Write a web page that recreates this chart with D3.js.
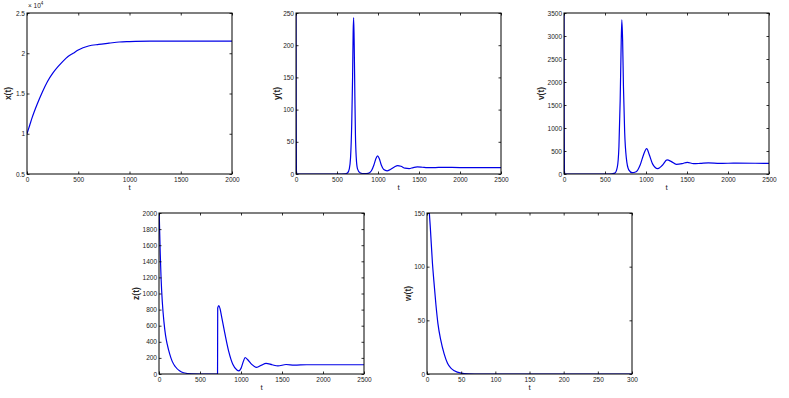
<!DOCTYPE html>
<html>
<head>
<meta charset="utf-8">
<script src="https://cdn.jsdelivr.net/npm/d3@7"></script>
<style>
  body { margin: 0; background: #fff; }
  svg { display: block; font-family: "Liberation Sans", Arial, sans-serif; }
</style>
</head>
<body>
<svg id="chart" width="789" height="398"></svg>
<script>
'use strict';

// x(t), in units of 10^4
var xTimes = [0, 25, 50, 100, 150, 200, 250, 300, 350, 400, 450, 500, 600, 700, 800, 900, 1000, 1200, 1500, 2000];
var xValues = [1.0, 1.1, 1.2, 1.37, 1.52, 1.65, 1.75, 1.83, 1.9, 1.96, 2.0, 2.04, 2.09, 2.11, 2.125, 2.14, 2.145, 2.15, 2.15, 2.15];

var yTimes = [0, 2, 5, 10, 100, 500, 600, 630, 650, 665, 680, 690, 697, 703, 710, 718, 725, 735, 750, 780, 830, 880, 920, 950, 975, 995, 1015, 1040, 1070, 1110, 1150, 1200, 1240, 1280, 1330, 1380, 1430, 1480, 1540, 1600, 1700, 1800, 2000, 2500];
var yValues = [260, 80, 5, 0.2, 0, 0, 0.3, 2, 8, 25, 80, 150, 220, 243, 200, 120, 60, 25, 8, 2, 0.5, 1, 5, 14, 24, 28, 24, 14, 7, 5, 7, 11, 13, 12, 9, 8.5, 10, 11, 10.5, 9.8, 10, 10.3, 10, 10];

var vTimes = [0, 2, 5, 10, 100, 550, 620, 650, 670, 685, 695, 705, 715, 725, 740, 760, 790, 830, 880, 930, 970, 1008, 1040, 1080, 1142, 1200, 1256, 1310, 1370, 1440, 1504, 1580, 1660, 1760, 1900, 2100, 2500];
var vValues = [3700, 1200, 80, 0, 0, 0, 20, 150, 600, 1600, 2600, 3350, 2900, 1900, 900, 350, 90, 30, 50, 200, 420, 552, 420, 220, 116, 190, 305, 270, 210, 225, 254, 225, 230, 240, 232, 235, 232];

var zTimes = [0, 5, 15, 25, 40, 60, 80, 100, 130, 160, 200, 250, 300, 400, 500, 714, 716, 730, 745, 760, 800, 850, 900, 950, 975, 1000, 1030, 1050, 1080, 1130, 1190, 1250, 1305, 1380, 1450, 1550, 1650, 1800, 2500];
var zValues = [2100, 1900, 1500, 1200, 900, 650, 480, 370, 250, 160, 90, 40, 15, 2, 0, 0, 820, 850, 810, 730, 520, 280, 120, 50, 40, 70, 160, 205, 180, 120, 82, 110, 133, 115, 100, 118, 110, 115, 115];

var wTimes = [0, 3, 5, 8, 10, 13, 16, 20, 25, 30, 35, 40, 50, 60, 80, 300];
var wValues = [200, 155, 135, 103, 87, 65, 47, 32, 19, 10, 5.5, 3, 0.8, 0.2, 0, 0];

var panels = [
  { left: 27, top: 13, label: 'x(t)', times: xTimes, values: xValues, tDomain: [0, 2000], tTicks: [0, 500, 1000, 1500, 2000], vDomain: [0.5, 2.5], vTicks: [0.5, 1, 1.5, 2, 2.5], exp: true },
  { left: 296, top: 13, label: 'y(t)', times: yTimes, values: yValues, tDomain: [0, 2500], tTicks: d3.range(0, 2501, 500), vDomain: [0, 250], vTicks: d3.range(0, 251, 50) },
  { left: 564, top: 13, label: 'v(t)', times: vTimes, values: vValues, tDomain: [0, 2500], tTicks: d3.range(0, 2501, 500), vDomain: [0, 3500], vTicks: d3.range(0, 3501, 500) },
  { left: 159, top: 213, label: 'z(t)', times: zTimes, values: zValues, tDomain: [0, 2500], tTicks: d3.range(0, 2501, 500), vDomain: [0, 2000], vTicks: d3.range(0, 2001, 200) },
  { left: 427, top: 213, label: 'w(t)', times: wTimes, values: wValues, tDomain: [0, 300], tTicks: d3.range(0, 301, 50), vDomain: [0, 150], vTicks: [0, 50, 100, 150] }
];

var pw = 205, ph = 161, tick = 2.5;
var svg = d3.select('#chart');

panels.forEach(function (p, i) {
  var g = svg.append('g').attr('transform', 'translate(' + p.left + ',' + p.top + ')');
  var x = d3.scaleLinear().domain(p.tDomain).range([0, pw]);
  var y = d3.scaleLinear().domain(p.vDomain).range([ph, 0]);

  g.append('clipPath').attr('id', 'clip' + i)
    .append('rect').attr('width', pw).attr('height', ph);

  var pts = p.times.map(function (t, k) { return [t, p.values[k]]; });
  var line = d3.line()
    .x(function (d) { return x(d[0]); })
    .y(function (d) { return y(d[1]); })
    .curve(d3.curveMonotoneX);

  g.append('path')
    .datum(pts)
    .attr('clip-path', 'url(#clip' + i + ')')
    .attr('fill', 'none')
    .attr('stroke', '#0000e6')
    .attr('stroke-width', 1.2)
    .attr('d', line);

  var fmt = function (d) { return d; };

  g.append('g').attr('transform', 'translate(0,' + ph + ')')
    .call(d3.axisBottom(x).tickValues(p.tTicks).tickSize(-tick).tickSizeOuter(0).tickPadding(3).tickFormat(fmt));
  g.append('g')
    .call(d3.axisLeft(y).tickValues(p.vTicks).tickSize(-tick).tickSizeOuter(0).tickPadding(2).tickFormat(fmt));
  g.append('g')
    .call(d3.axisTop(x).tickValues(p.tTicks).tickSize(-tick).tickSizeOuter(0).tickFormat(''));
  g.append('g').attr('transform', 'translate(' + pw + ',0)')
    .call(d3.axisRight(y).tickValues(p.vTicks).tickSize(-tick).tickSizeOuter(0).tickFormat(''));

  g.selectAll('.domain').remove();
  g.selectAll('.tick line').attr('stroke', '#000').attr('stroke-width', 0.8);
  g.selectAll('.tick text').attr('font-size', 6.5).attr('fill', '#222')
    .attr('font-family', '"Liberation Sans", Arial, sans-serif');

  g.append('rect')
    .attr('width', pw).attr('height', ph)
    .attr('fill', 'none').attr('stroke', '#000').attr('stroke-width', 1);

  g.append('text')
    .attr('x', pw / 2).attr('y', ph + 16)
    .attr('text-anchor', 'middle')
    .attr('font-size', 8).attr('fill', '#222')
    .text('t');

  var labelX = p.exp ? -16 : -16 - (String(p.vDomain[1]).length - 3) * 4;
  g.append('text')
    .attr('transform', 'translate(' + labelX + ',' + (ph / 2) + ') rotate(-90)')
    .attr('text-anchor', 'middle')
    .attr('font-size', 8.5).attr('font-weight', 'bold').attr('fill', '#222')
    .text(p.label);

  if (p.exp) {
    var e = g.append('text').attr('x', 1).attr('y', -5).attr('font-size', 6.5).attr('fill', '#222');
    e.append('tspan').text('\u00d7 10');
    e.append('tspan').attr('dy', -3).attr('font-size', 4.5).text('4');
  }
});
</script>
</body>
</html>
